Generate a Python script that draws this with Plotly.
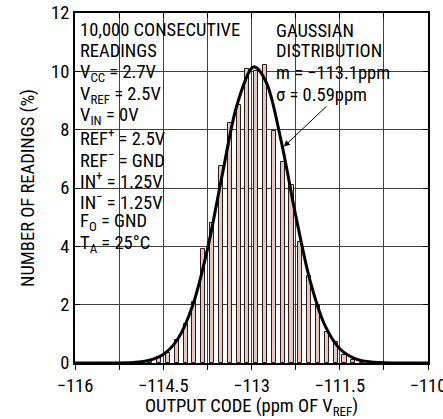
import plotly.graph_objects as go

# ---- data ----
bin_centers = [-114.87, -114.72, -114.57, -114.42, -114.27, -114.12, -113.97, -113.82,
               -113.67, -113.52, -113.37, -113.22, -113.07, -112.92, -112.77, -112.62,
               -112.47, -112.32, -112.17, -112.02, -111.87, -111.72, -111.57, -111.42,
               -111.27, -111.12]
bin_pct = [0.05, 0.08, 0.20, 0.35, 0.79, 1.35, 2.10, 3.92,
           4.79, 6.75, 8.22, 8.84, 10.07, 10.02, 10.22, 7.97,
           6.90, 6.10, 4.16, 2.98, 1.99, 1.07, 0.73, 0.27,
           0.10, 0.04]

curve_x = [-116.0, -115.5, -115.0, -114.75, -114.5, -114.25, -114.0, -113.75, -113.5,
           -113.25, -113.0, -112.94, -112.75, -112.5, -112.25, -112.0, -111.75, -111.5,
           -111.25, -111.0, -110.5, -110.0]
curve_y = [0.0, 0.0, 0.02, 0.085, 0.29, 0.83, 1.97, 3.89, 6.42,
           8.82, 10.10, 10.15, 9.63, 7.65, 5.07, 2.79, 1.28, 0.49,
           0.16, 0.04, 0.0, 0.0]

x_tickvals = [-116, -114.5, -113, -111.5, -110]
x_ticktext = ["\u2212116", "\u2212114.5", "\u2212113", "\u2212111.5", "\u2212110"]
y_tickvals = [0, 2, 4, 6, 8, 10, 12]

left_lines = ["10,000 CONSECUTIVE", "READINGS", "V<sub>CC</sub> = 2.7V", "V<sub>REF</sub> = 2.5V",
              "V<sub>IN</sub> = 0V", "REF<sup>+</sup> = 2.5V", "REF<sup>\u2212</sup> = GND",
              "IN<sup>+</sup> = 1.25V", "IN<sup>\u2212</sup> = 1.25V", "F<sub>O</sub> = GND",
              "T<sub>A</sub> = 25\u00b0C"]
right_lines = ["GAUSSIAN", "DISTRIBUTION", "m = \u2212113.1ppm", "\u03c3 = 0.59ppm"]

FONT = "Liberation Sans Narrow, Arial Narrow, Roboto Condensed, Liberation Sans, sans-serif"
FS = 18.5

# layout geometry (pixels)
L, R, T, B = 75, 15, 13, 56
W, H = 443, 419
PW, PH = W - L - R, H - T - B

def px2paper_x(px):
    return (px - L) / PW

def py2paper_y(py):
    return (H - B - py) / PH

fig = go.Figure()
fig.add_trace(go.Bar(x=bin_centers, y=bin_pct, width=0.07,
                     marker=dict(color="#e8c6c0", line=dict(color="#2a1a1a", width=1)),
                     hoverinfo="skip"))
fig.add_trace(go.Scatter(x=curve_x, y=curve_y, mode="lines",
                         line=dict(color="black", width=3, shape="spline", smoothing=1.0),
                         hoverinfo="skip"))

# white boxes behind text (hide gridlines)
for (x0, x1, y0, y1) in [(75, 201, 13, 257), (75, 246, 13, 44), (271, 401, 13, 107)]:
    fig.add_shape(type="rect", xref="paper", yref="paper",
                  x0=px2paper_x(x0), x1=px2paper_x(x1), y0=py2paper_y(y1), y1=py2paper_y(y0),
                  fillcolor="white", line=dict(width=0), layer="between")

left_y = [30, 51.5, 73, 94.5, 116, 137.5, 159, 180.5, 201, 222, 243.5]
for txt, py in zip(left_lines, left_y):
    fig.add_annotation(text=txt, xref="paper", yref="paper", x=px2paper_x(78), y=py2paper_y(py),
                       xanchor="left", yanchor="middle", showarrow=False,
                       font=dict(family=FONT, size=FS, color="black"))
right_y = [31, 51.5, 73.5, 95]
for txt, py in zip(right_lines, right_y):
    fig.add_annotation(text=txt, xref="paper", yref="paper", x=px2paper_x(274), y=py2paper_y(py),
                       xanchor="left", yanchor="middle", showarrow=False,
                       font=dict(family=FONT, size=FS, color="black"))

# arrow to curve
fig.add_annotation(x=-112.45, y=7.42, ax=-111.70, ay=8.85, axref="x", ayref="y",
                   xref="x", yref="y", text="", showarrow=True,
                   arrowhead=2, arrowsize=1.2, arrowwidth=1, arrowcolor="black")

axis_common = dict(showline=True, linecolor="black", linewidth=2,
                   gridcolor="#404040", gridwidth=1, zeroline=False, automargin=False,
                   tickfont=dict(family=FONT, size=FS, color="black"),
                   ticklen=5, tickcolor="black", tickwidth=1, ticklabeloverflow="allow")

fig.update_layout(
    width=W, height=H, margin=dict(l=L, r=R, t=T, b=B),
    paper_bgcolor="white", plot_bgcolor="white", showlegend=False,
    bargap=0,
    xaxis=dict(range=[-116, -110], tickvals=x_tickvals, ticktext=x_ticktext,
               ticks="outside", mirror=True,
               minor=dict(dtick=0.75, tick0=-116, showgrid=True, gridcolor="#404040",
                          gridwidth=1, ticks="outside", ticklen=5, tickcolor="black"),
               title=dict(text="OUTPUT CODE (ppm OF V<sub>REF</sub>)",
                          font=dict(family=FONT, size=FS, color="black"), standoff=2),
               **axis_common),
    xaxis2=dict(range=[-116, -110], overlaying="x", side="top", showgrid=False,
                showticklabels=False, ticks="inside", ticklen=5, tickcolor="black",
                dtick=0.75, tick0=-116, showline=False, zeroline=False, automargin=False),
    yaxis=dict(range=[0, 12], tickvals=y_tickvals, ticks="inside", mirror="ticks",
               title=dict(text="NUMBER OF READINGS (%)",
                          font=dict(family=FONT, size=FS, color="black"), standoff=12),
               **axis_common),
)
# dummy trace to activate top axis
fig.add_trace(go.Scatter(x=[-116], y=[0], xaxis="x2", mode="markers",
                         marker=dict(opacity=0), hoverinfo="skip"))

fig.write_html("out.html", config={"displayModeBar": False},
               post_script="document.body.style.margin='0';document.body.style.padding='0';"
                           "document.body.style.overflow='hidden';")
